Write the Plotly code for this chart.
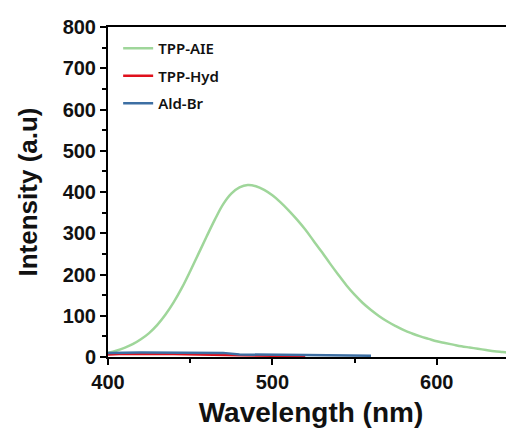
import plotly.graph_objects as go

# TPP-AIE emission spectrum
wl_aie = [400, 405, 410, 415, 420, 425, 430, 435, 440, 445, 450, 455, 460, 465, 470,
          475, 480, 485, 490, 495, 500, 505, 510, 515, 520, 525, 530, 535, 540, 545,
          550, 555, 560, 565, 570, 575, 580, 585, 590, 595, 600, 605, 610, 615, 620,
          625, 630, 635, 640, 645, 647]
int_aie = [10, 15, 22, 31, 43, 58, 78, 103, 133, 168, 208, 250, 292, 333, 370,
           396, 411, 417, 414, 405, 392, 375, 355, 333, 309, 282, 255, 227, 200, 174,
           151, 131, 114, 99, 86, 75, 65, 57, 50, 44, 38, 34, 30, 26, 23,
           20, 17, 14, 12, 10, 9]

wl_hyd = [400, 410, 440, 450, 470, 480, 520]
int_hyd = [6, 8, 7, 6, 5, 4, 2]

wl_ald = [400, 420, 470, 480, 520, 560]
int_ald = [10, 11, 10, 6, 5, 3]

fig = go.Figure()
fig.add_trace(go.Scatter(x=wl_aie, y=int_aie, mode="lines", name="TPP-AIE",
                         legendgroup="a",
                         line=dict(color="#9fd69a", width=2.5, shape="spline")))
fig.add_trace(go.Scatter(x=wl_hyd, y=int_hyd, mode="lines", name="TPP-Hyd",
                         legendgroup="b", line=dict(color="#e0101c", width=2.5)))
fig.add_trace(go.Scatter(x=wl_ald, y=int_ald, mode="lines", name="Ald-Br",
                         legendgroup="c", line=dict(color="#3d6fa3", width=2.5)))

tickfont = dict(family="Liberation Sans, Arial", size=20, color="#111", weight="bold")
titlefont = dict(family="Liberation Sans, Arial", color="#111", weight="bold")
fig.update_layout(
    width=506, height=423,
    margin=dict(l=100, r=0, t=19, b=74),
    plot_bgcolor="white", paper_bgcolor="white",
    showlegend=True,
    legend=dict(x=0.025, y=0.985, xanchor="left", yanchor="top",
                font=dict(family="Noto Sans, Arial", size=15, color="#111", weight=600),
                bgcolor="rgba(0,0,0,0)", tracegroupgap=5),
    xaxis=dict(range=[400, 647], tickvals=[400, 500, 600], showgrid=False,
               zeroline=False, showline=True, linecolor="black", linewidth=2,
               mirror=True, ticks="outside", ticklen=6, tickwidth=2,
               tickcolor="black", tickfont=tickfont,
               minor=dict(tickvals=[450, 550], ticks="outside", ticklen=4,
                          tickwidth=2, tickcolor="black"),
               title=dict(text="Wavelength (nm)", standoff=10,
                          font=dict(size=28, **titlefont))),
    yaxis=dict(range=[0, 800], tickvals=[0, 100, 200, 300, 400, 500, 600, 700, 800],
               showgrid=False, zeroline=False, showline=True, linecolor="black",
               linewidth=2, ticks="outside", ticklen=6, tickwidth=2,
               tickcolor="black", tickfont=tickfont,
               minor=dict(tickvals=[50, 150, 250, 350, 450, 550, 650, 750],
                          ticks="outside", ticklen=4, tickwidth=2, tickcolor="black"),
               title=dict(text="Intensity (a.u)", standoff=18,
                          font=dict(size=26, **titlefont))),
)
fig.write_html("out.html")
